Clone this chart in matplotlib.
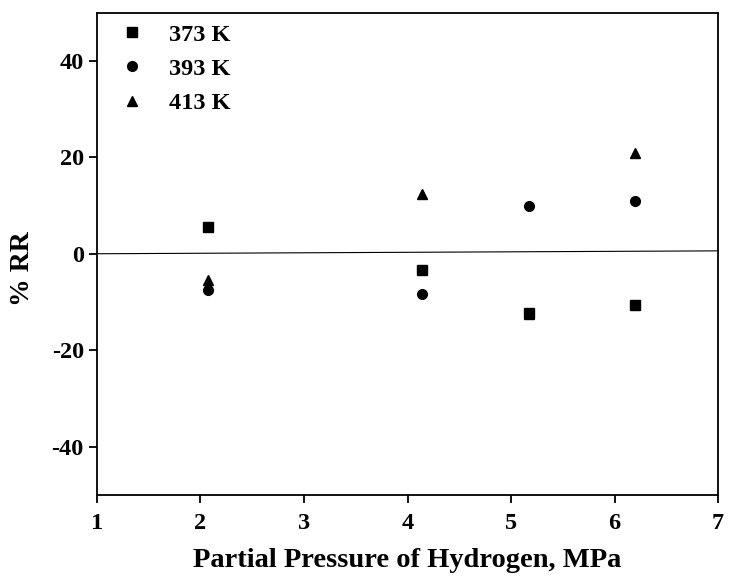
import matplotlib.pyplot as plt

plt.rcParams["font.family"] = ["Liberation Serif", "DejaVu Serif"]
plt.rcParams["font.weight"] = "bold"
plt.rcParams["axes.unicode_minus"] = False

# Relative reduction (%) vs hydrogen partial pressure at three temperatures
pressure = [2.07, 4.14, 5.17, 6.2]
rr_373 = [5.6, -3.3, -12.2, -10.6]
rr_393 = [-7.5, -8.3, 10.0, 11.0]
rr_413 = [-5.4, 12.5, -12.5, 20.8]

# reference line drawn across the plot
line_x = [1, 7]
line_y = [0.0, 0.6]

fig, ax = plt.subplots(figsize=(7.29, 5.8), dpi=100)
fig.subplots_adjust(left=0.133, right=0.985, top=0.978, bottom=0.147)

ax.plot(line_x, line_y, color="black", linewidth=0.8)
ax.plot(pressure, rr_373, "s", color="black", markersize=6.5, linestyle="none", label="373 K")
ax.plot(pressure, rr_393, "o", color="black", markersize=7, linestyle="none", label="393 K")
ax.plot(pressure, rr_413, "^", color="black", markersize=7.5, linestyle="none", label="413 K")

ax.set_xlim(1, 7)
ax.set_ylim(-50, 50)
ax.set_xticks(range(1, 8))
ax.set_yticks([-40, -20, 0, 20, 40])
ax.tick_params(direction="out", length=6, width=1.3, labelsize=17.5, top=False, right=False)
ax.tick_params(axis="x", pad=7)
for s in ax.spines.values():
    s.set_linewidth(1.3)

ax.set_xlabel("Partial Pressure of Hydrogen, MPa", fontsize=20.5, fontweight="bold", labelpad=10)
ax.set_ylabel("% RR", fontsize=20, fontweight="bold")
ax.yaxis.set_label_coords(-0.1, 0.47)

ax.legend(loc="upper left", frameon=False, fontsize=17.5, handletextpad=0.5,
          labelspacing=0.5, borderaxespad=0.1, borderpad=0.35)

fig.savefig("out.png", dpi=100)
